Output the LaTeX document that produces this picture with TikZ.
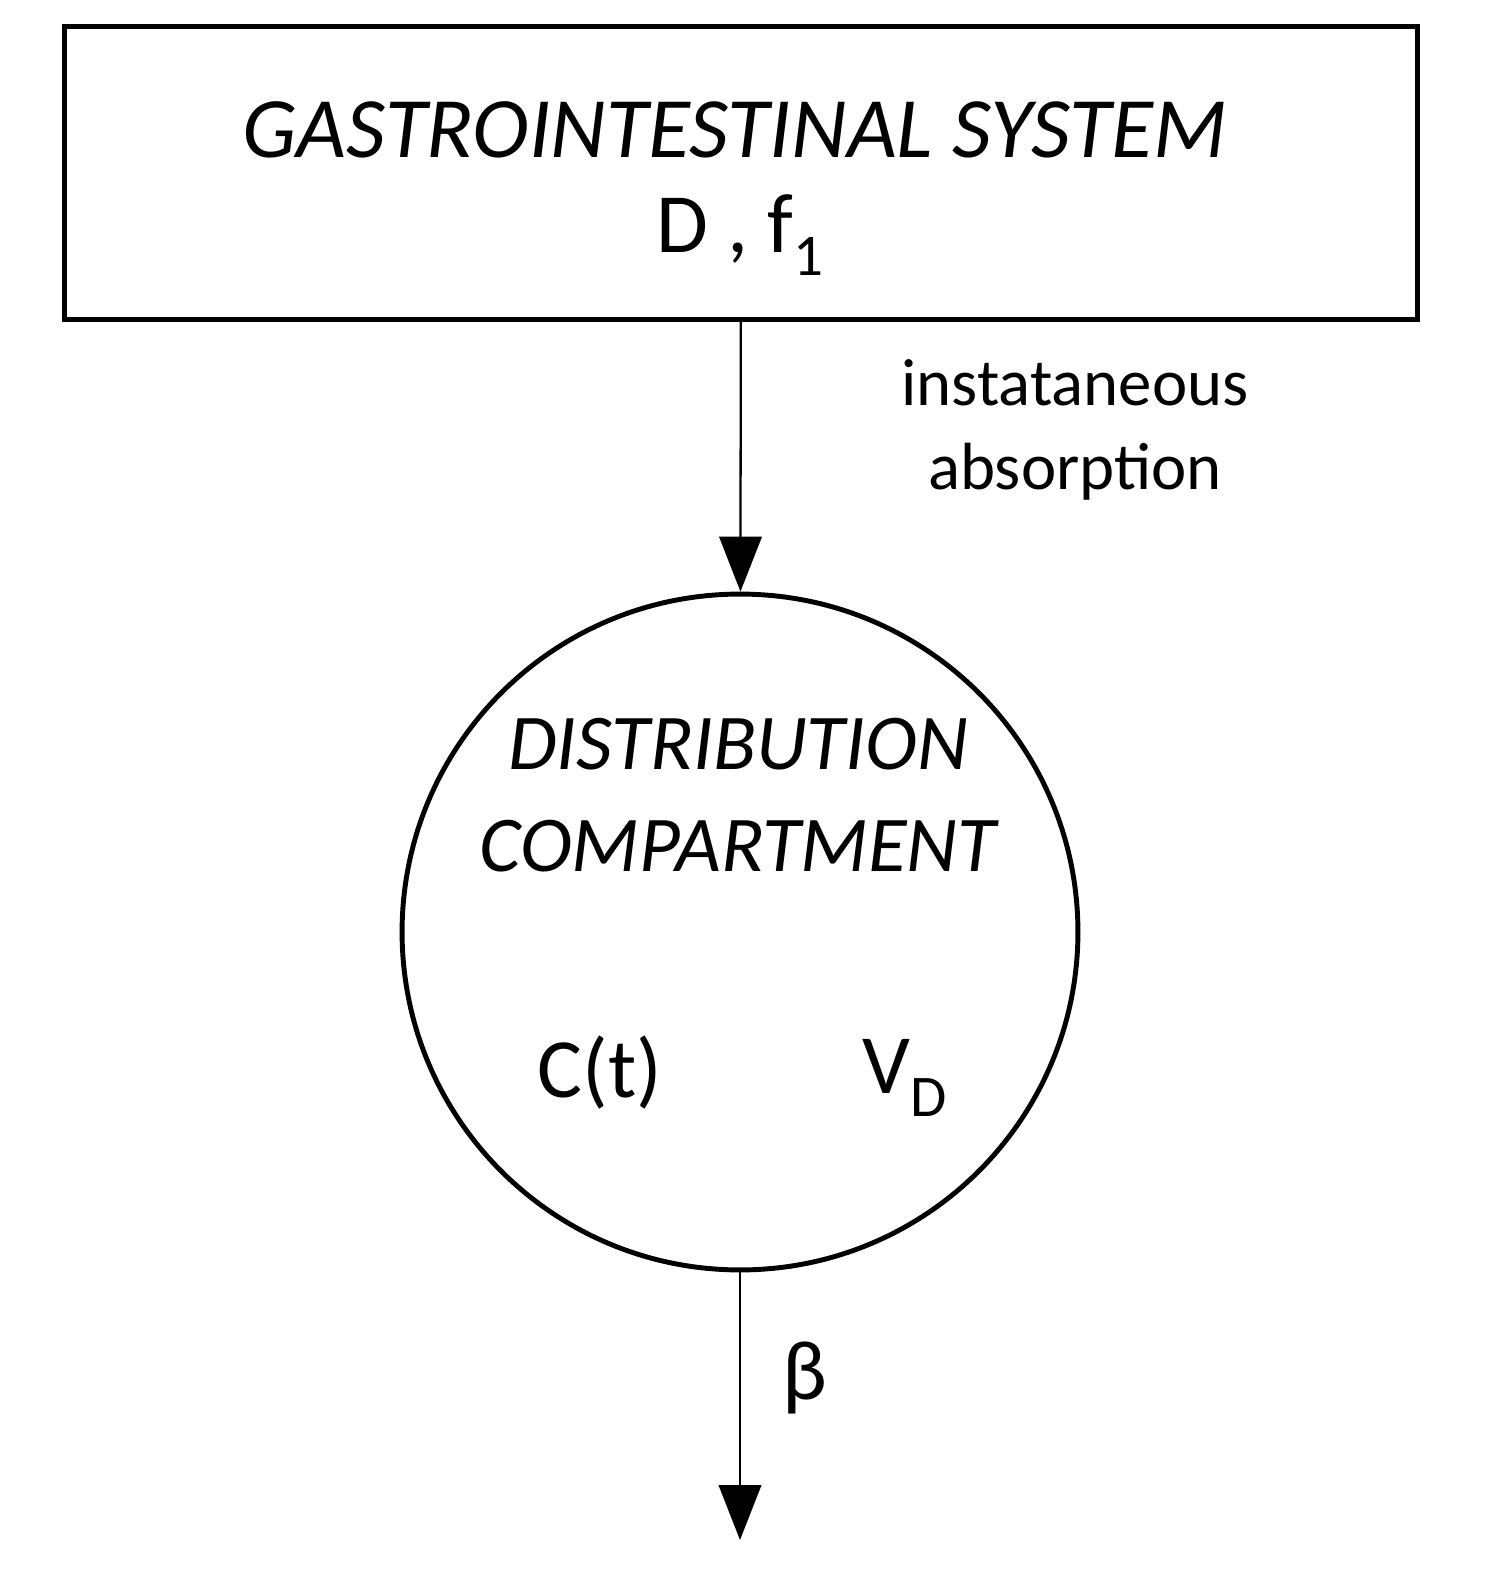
\documentclass[tikz,border=0pt]{standalone}
\usepackage{fontspec}
\setmainfont{Carlito}
\usetikzlibrary{positioning,arrows.meta}
\begin{document}
\begin{tikzpicture}[x=0.02cm,y=-0.02cm]
  % Define block styles
  \tikzset{
    block/.style={rectangle, draw, line width=2.8pt, minimum width=27.06cm, minimum height=5.86cm},
    comp/.style={circle, draw, line width=2.8pt, minimum size=13.52cm},
    line/.style={draw, line width=1.3pt, -{Triangle[length=1.1cm,width=0.85cm]}},
    big/.style={font=\fontsize{48}{56}\selectfont},
    mid/.style={font=\fontsize{38}{48}\selectfont}
  }
  \useasboundingbox (0,0) rectangle (1501,1588);

  % Place blocks
  \node [block] (gi) at (741,173) {};
  \node [comp] (dc) at (740,932) {};
  \node [big, font=\fontsize{49}{56}\selectfont\itshape] at (735,130) {GASTROINTESTINAL SYSTEM};
  \node [big] at (740,235) {D , f\textsubscript{1}};
  \node [big, font=\fontsize{45}{54}\selectfont\itshape, align=center] at (738,795)
    {DISTRIBUTION\\[4pt] COMPARTMENT};
  \node [big] at (600,1072) {C(t)};
  \node [big] at (905,1078) {V\textsubscript{D}};
  \node [mid, align=center] at (1075,430) {instataneous\\absorption};
  \coordinate (out) at (740,1540);
  \node [big] at (805,1378) {β};

  % Draw lines
  \path [line] (gi) -- (dc);
  \path [line] (dc) -- (out);
\end{tikzpicture}
\end{document}
